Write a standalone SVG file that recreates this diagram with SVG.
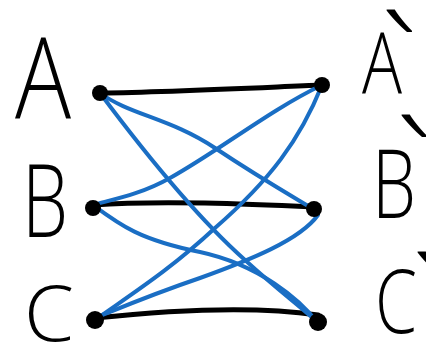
<svg xmlns="http://www.w3.org/2000/svg" width="426" height="345" viewBox="0 0 426 345">
<style>
.lbl{font-family:"Open Sans","Liberation Sans",sans-serif;font-weight:300;fill:#000}
.tick{font-size:140px}
.blk{fill:none;stroke:#000;stroke-width:5;stroke-linecap:round}
.blu{fill:none;stroke:#1a6ec4;stroke-width:4;stroke-linecap:round}
.dot{fill:#000}
</style>
<rect width="426" height="345" fill="#fff"/>
<g id="connectors">
<path class="blk" d="M100,93 C170,92 250,88 322,85"/>
<path class="blk" d="M93,205 C160,200 250,204 315,207"/>
<path class="blk" d="M95,318 C170,310 250,305 318,315"/>
<path class="blu" d="M100,93 C130,115 170,118 215,148 C260,178 290,195 315,210"/>
<path class="blu" d="M100,93 C150,160 200,220 245,260 C280,292 305,310 318,323"/>
<path class="blu" d="M322,85 C270,110 220,150 170,178 C140,195 110,200 93,205"/>
<path class="blu" d="M322,85 C300,140 270,180 215,228 C170,270 130,295 95,320"/>
<path class="blu" d="M93,205 C120,225 140,240 200,252 C260,265 300,300 317,322"/>
<path class="blu" d="M318,215 C300,240 250,260 200,278 C150,295 115,310 95,318"/>
</g>
<g id="node-A">
<text class="lbl" x="15" y="118" font-size="112" textLength="56" lengthAdjust="spacingAndGlyphs">A</text>
<circle class="dot" cx="100" cy="93" r="8"/>
</g>
<g id="node-B">
<text class="lbl" x="22" y="237" font-size="102" textLength="46" lengthAdjust="spacingAndGlyphs">B</text>
<circle class="dot" cx="93" cy="208" r="8"/>
</g>
<g id="node-C">
<text class="lbl" x="24" y="341" font-size="78" textLength="50" lengthAdjust="spacingAndGlyphs">C</text>
<circle class="dot" cx="95" cy="320" r="9"/>
</g>
<g id="node-A2">
<text class="lbl" font-size="84"><tspan x="362" y="93" textLength="40" lengthAdjust="spacingAndGlyphs">A</tspan><tspan class="tick" x="381" y="117">`</tspan></text>
<circle class="dot" cx="322" cy="85" r="8"/>
</g>
<g id="node-B2">
<text class="lbl" font-size="95"><tspan x="372" y="218" textLength="44" lengthAdjust="spacingAndGlyphs">B</tspan><tspan class="tick" x="396" y="222">`</tspan></text>
<circle class="dot" cx="314" cy="209" r="8"/>
</g>
<g id="node-C2">
<text class="lbl" font-size="88"><tspan x="375" y="333" textLength="42" lengthAdjust="spacingAndGlyphs">C</tspan><tspan class="tick" x="412" y="359">`</tspan></text>
<circle class="dot" cx="318" cy="322" r="9"/>
</g>
</svg>
